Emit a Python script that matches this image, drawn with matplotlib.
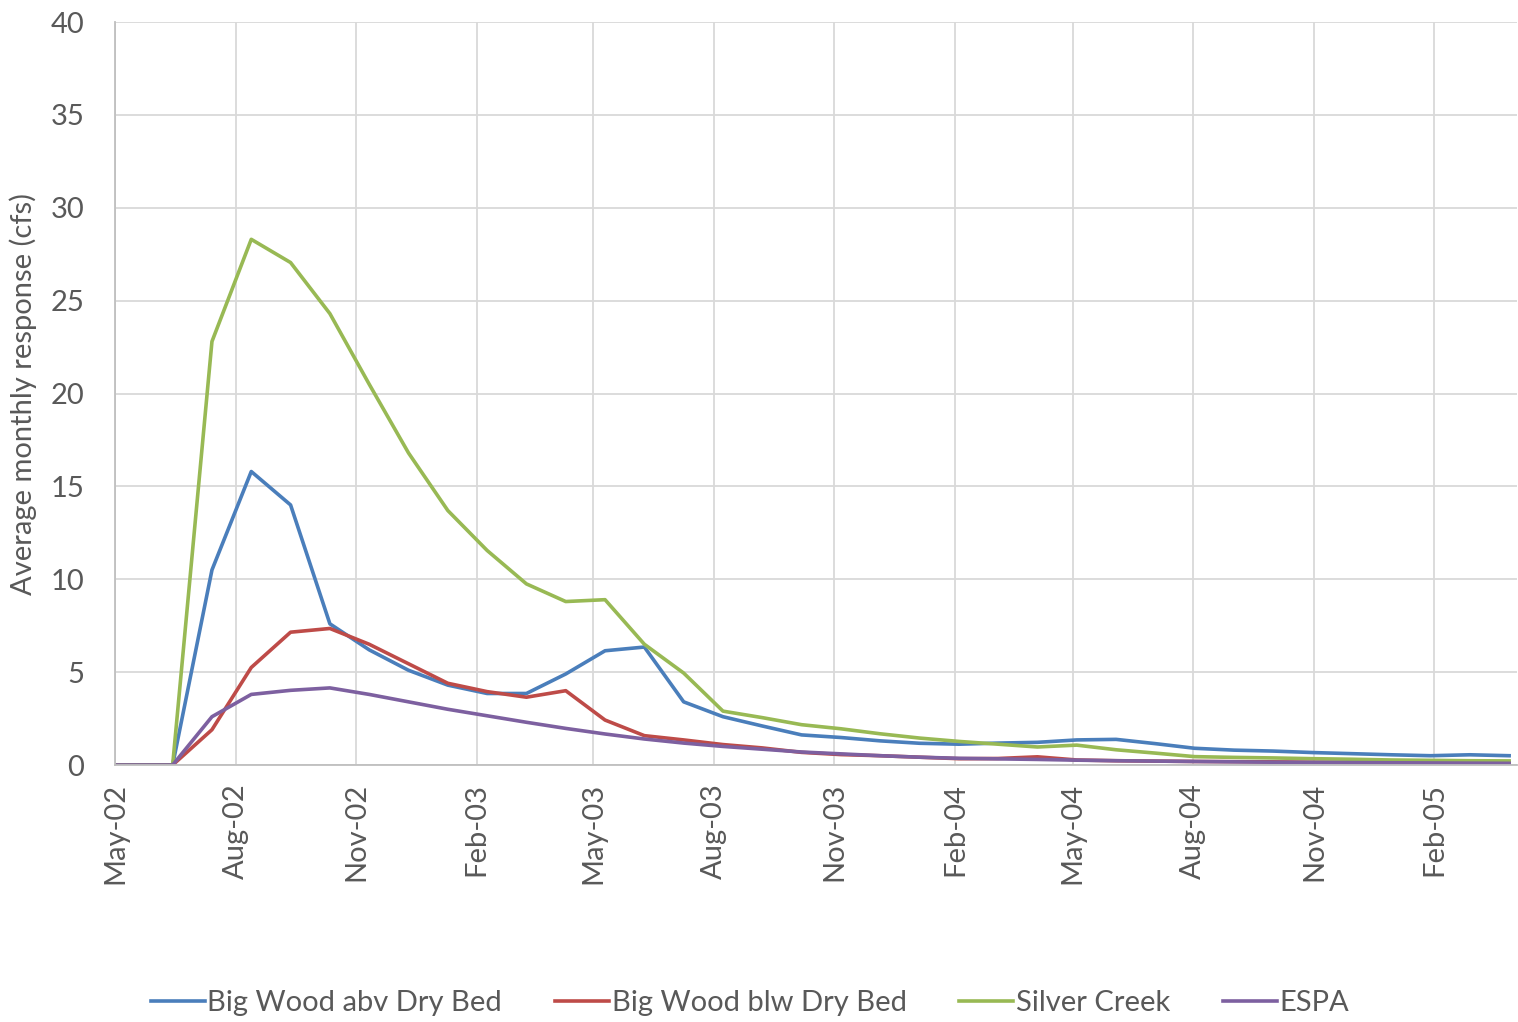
import matplotlib
matplotlib.use("Agg")
import matplotlib.pyplot as plt
import matplotlib.dates as mdates
import pandas as pd

# dates of the model output (first point, then roughly every 30 days)
dates = [pd.Timestamp("2002-05-01")] + list(pd.date_range("2002-06-14", periods=35, freq="30D"))

abv_dry_bed = [0, 0, 10.5, 15.8, 14.0, 7.6, 6.2, 5.1, 4.3, 3.85, 3.85, 4.9, 6.15, 6.35, 3.4, 2.6,
               2.1, 1.62, 1.48, 1.3, 1.17, 1.12, 1.18, 1.22, 1.35, 1.38, 1.15, 0.9, 0.8, 0.75,
               0.67, 0.61, 0.55, 0.5, 0.55, 0.5]
blw_dry_bed = [0, 0, 1.9, 5.25, 7.15, 7.35, 6.5, 5.45, 4.4, 3.95, 3.65, 4.0, 2.42, 1.58, 1.35, 1.1,
               0.92, 0.68, 0.56, 0.5, 0.42, 0.34, 0.35, 0.44, 0.27, 0.23, 0.21, 0.19, 0.18, 0.17,
               0.15, 0.14, 0.13, 0.12, 0.11, 0.1]
silver_creek = [0, 0, 22.8, 28.3, 27.05, 24.3, 20.5, 16.8, 13.7, 11.55, 9.75, 8.8, 8.9, 6.5, 4.95, 2.9,
                2.55, 2.17, 1.95, 1.68, 1.45, 1.27, 1.12, 0.97, 1.07, 0.82, 0.64, 0.45, 0.41, 0.38,
                0.34, 0.31, 0.27, 0.25, 0.23, 0.22]
espa = [0, 0, 2.6, 3.8, 4.02, 4.15, 3.8, 3.4, 3.0, 2.65, 2.3, 1.97, 1.67, 1.4, 1.18, 1.0,
        0.85, 0.7, 0.6, 0.5, 0.42, 0.36, 0.33, 0.3, 0.26, 0.23, 0.21, 0.19, 0.17, 0.15,
        0.14, 0.13, 0.12, 0.11, 0.1, 0.09]

series = [("Big Wood abv Dry Bed", abv_dry_bed, "#4A7EBB"),
          ("Big Wood blw Dry Bed", blw_dry_bed, "#BE4B48"),
          ("Silver Creek", silver_creek, "#98B954"),
          ("ESPA", espa, "#7D60A0")]

plt.rcParams["font.family"] = ["Lato", "DejaVu Sans"]
txt = "#595959"
fs = 21

fig = plt.figure(figsize=(15.18, 10.22), dpi=100)
ax = fig.add_axes([115/1518, 1-765/1022, 1402/1518, 743/1022])

for name, vals, col in series:
    ax.plot(dates, vals, color=col, lw=2.6, label=name, solid_joinstyle="round")

ax.set_ylim(0, 40)
ax.set_yticks(range(0, 41, 5))
ax.set_xlim(pd.Timestamp("2002-05-01"), pd.Timestamp("2005-04-05"))
ax.xaxis.set_major_locator(mdates.MonthLocator(bymonth=[2, 5, 8, 11]))
ax.xaxis.set_major_formatter(mdates.DateFormatter("%b-%y"))

ax.grid(True, color="#D9D9D9", lw=1.3)
ax.set_axisbelow(True)
for s in ["top", "right"]:
    ax.spines[s].set_visible(False)
for s in ["left", "bottom"]:
    ax.spines[s].set_color("#BFBFBF")
    ax.spines[s].set_linewidth(1.3)

ax.tick_params(axis="both", length=0, labelsize=fs, labelcolor=txt)
ax.tick_params(axis="x", rotation=90, pad=13)
ax.tick_params(axis="y", pad=22)
ax.set_ylabel("Average monthly response (cfs)", fontsize=fs, color=txt, labelpad=10)

fig.legend(loc="center", bbox_to_anchor=(750/1518, 1-1003/1022), ncol=4, frameon=False,
           fontsize=fs, handlelength=1.85, handletextpad=0.1, columnspacing=1.8, labelcolor=txt)

fig.savefig("out.png", dpi=100)
